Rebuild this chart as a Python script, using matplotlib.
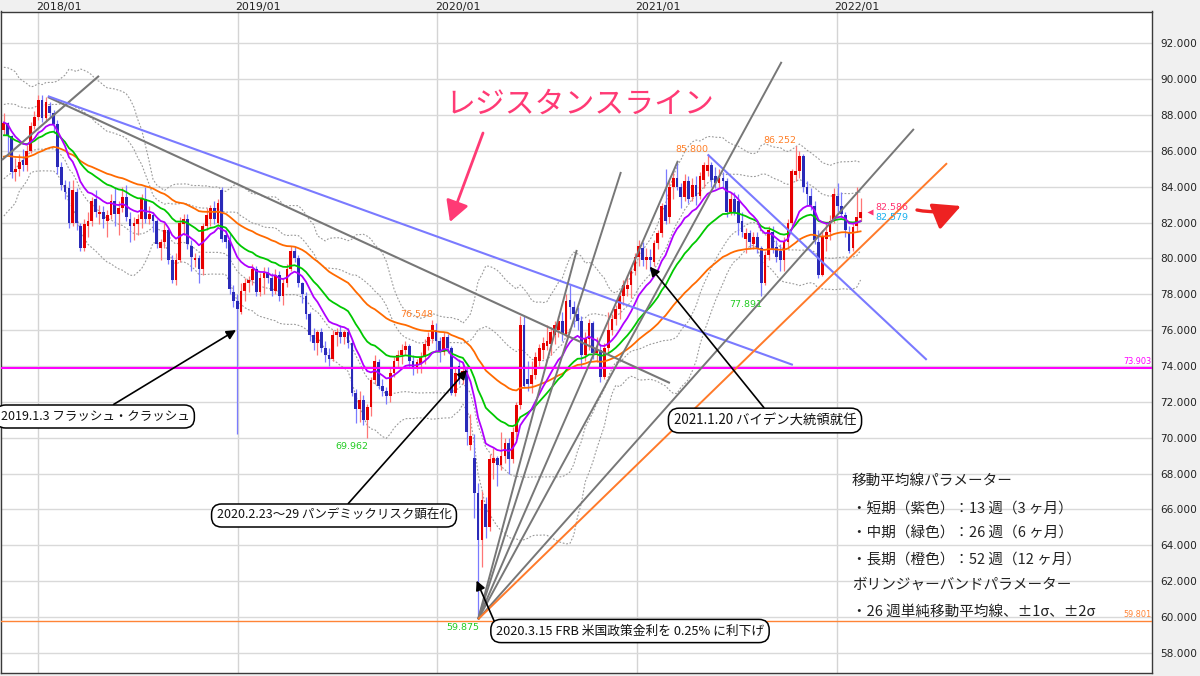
import numpy as np
import pandas as pd
import matplotlib
matplotlib.use("Agg")
import matplotlib.pyplot as plt
import matplotlib.transforms as mtransforms

W, H = 1200, 676
JP = ['Noto Sans CJK JP', 'DejaVu Sans']
plt.rcParams['font.family'] = ['DejaVu Sans']

# ---------------------------------------------------------------- data
# Weekly AUD/JPY candles, first week starting 2017-10-30
first_week = np.datetime64('2017-10-30')

opens = [
    87.15, 87.55, 86.85, 84.8, 85.0, 85.5, 85.2, 86.0, 87.4, 87.9,
    88.85, 87.85, 88.5, 88.1, 87.5, 85.1, 84.1, 83.9, 82.0, 83.7,
    81.8, 80.6, 81.8, 82.1, 83.3, 82.5, 82.6, 82.1, 82.4, 83.2,
    82.5, 82.8, 83.4, 82.2, 81.8, 81.9, 82.2, 83.3, 82.2, 82.4,
    82.1, 80.6, 80.9, 81.6, 79.9, 78.8, 79.9, 81.9, 82.2, 80.7,
    79.9, 80.0, 79.4, 81.8, 82.2, 82.8, 82.0, 83.8, 81.3, 81.0,
    78.1, 77.6, 77.0, 78.2, 78.6, 78.8, 79.4, 78.1, 78.9, 79.2,
    78.9, 78.2, 79.1, 77.9, 78.6, 79.4, 80.4, 80.0, 78.6, 77.9,
    76.9, 75.7, 75.3, 75.9, 75.0, 74.6, 74.4, 75.7, 75.9, 75.6,
    75.9, 75.3, 72.5, 71.6, 72.1, 71.0, 71.7, 73.2, 74.2, 72.9,
    72.6, 72.3, 73.6, 74.3, 74.6, 74.9, 75.1, 74.3, 73.9, 74.1,
    74.5, 75.1, 75.5, 76.0, 75.4, 74.8, 75.6, 75.0, 72.5, 74.0,
    73.3, 73.7, 69.6, 68.85, 66.9, 64.3, 66.3, 65.0, 68.6, 68.85,
    68.5, 69.0, 69.7, 68.8, 70.3, 71.8, 76.3, 73.3, 73.0, 73.5,
    74.3, 74.9, 75.1, 75.2, 75.7, 76.0, 76.5, 75.8, 77.7, 77.3,
    76.9, 76.5, 74.6, 75.5, 76.4, 74.7, 74.9, 73.4, 75.0, 76.0,
    76.6, 77.2, 77.9, 78.3, 78.5, 79.3, 80.1, 80.6, 79.9, 80.1,
    79.8, 80.85, 81.4, 83.0, 82.3, 84.0, 84.5, 84.0, 83.4, 84.3,
    83.4, 84.1, 83.5, 84.4, 84.9, 85.2, 84.6, 84.2, 84.5, 84.3,
    82.6, 83.3, 83.2, 82.1, 81.1, 81.4, 80.8, 81.2, 80.6, 78.6,
    80.2, 81.5, 80.66, 80.4, 79.9, 80.9, 82.0, 84.65, 84.9, 85.7,
    84.0, 83.5, 82.9, 80.9, 79.1, 81.1, 81.5, 82.2, 83.5, 82.9,
    82.4, 81.5, 80.57, 81.8, 82.24]

highs = [
    88.1, 87.6, 86.9, 85.6, 85.8, 86.1, 86.3, 87.6, 88.2, 89.1,
    89.1, 89.0, 88.7, 88.3, 87.7, 85.4, 84.4, 84.3, 84.4, 83.9,
    82.0, 82.2, 82.6, 83.4, 83.8, 83.0, 82.9, 82.7, 83.6, 84.0,
    83.2, 84.0, 84.1, 82.6, 82.3, 82.5, 83.6, 84.0, 82.9, 82.6,
    82.2, 81.1, 82.0, 81.7, 80.2, 80.3, 82.3, 82.5, 82.5, 81.0,
    80.3, 80.2, 82.0, 82.8, 83.0, 83.2, 83.3, 84.0, 81.6, 81.4,
    78.5, 78.0, 78.6, 78.9, 79.0, 79.7, 79.6, 79.2, 79.5, 79.5,
    79.2, 79.4, 79.3, 78.9, 79.7, 80.7, 80.7, 80.2, 78.7, 78.1,
    77.0, 76.1, 76.0, 76.1, 75.4, 75.0, 76.0, 76.1, 76.3, 76.0,
    76.1, 75.5, 72.7, 72.6, 72.4, 71.9, 73.4, 74.6, 74.4, 73.3,
    72.8, 73.9, 74.5, 74.9, 75.2, 75.4, 75.2, 74.6, 74.4, 74.8,
    75.5, 75.9, 76.548, 76.4, 75.6, 75.9, 75.8, 75.1, 73.9, 74.4,
    74.2, 74.0, 71.3, 70.2, 67.5, 67.0, 66.7, 69.1, 69.4, 69.0,
    70.3, 70.0, 70.0, 70.6, 72.0, 76.8, 76.8, 74.3, 74.3, 74.8,
    75.2, 75.6, 76.3, 76.2, 76.5, 76.8, 77.0, 78.0, 78.5, 77.6,
    77.3, 76.8, 75.9, 76.6, 76.5, 75.6, 75.2, 75.3, 77.0, 76.9,
    77.4, 78.0, 78.8, 79.1, 79.5, 80.3, 81.0, 80.9, 80.6, 80.5,
    81.0, 81.6, 83.1, 85.0, 84.3, 84.9, 85.4, 84.2, 84.7, 84.6,
    84.5, 84.6, 84.8, 85.4, 85.8, 85.4, 85.1, 85.0, 84.8, 84.5,
    83.7, 83.7, 83.6, 82.6, 81.7, 81.6, 81.5, 81.5, 80.7, 80.4,
    81.8, 81.8, 81.0, 80.8, 81.2, 82.2, 85.0, 86.252, 86.0, 85.8,
    84.3, 83.9, 83.2, 81.6, 81.6, 82.0, 82.4, 83.9, 84.2, 83.7,
    82.6, 81.8, 82.0, 84.0, 83.37]

lows = [
    86.9, 85.9, 84.5, 84.3, 84.6, 84.9, 84.9, 85.9, 87.2, 87.7,
    87.6, 87.6, 87.9, 87.0, 84.7, 83.8, 83.3, 81.7, 81.8, 81.6,
    80.4, 80.4, 81.2, 81.8, 82.3, 81.9, 81.7, 81.2, 82.2, 81.8,
    81.3, 82.6, 82.1, 80.9, 81.0, 81.3, 81.7, 82.0, 81.9, 81.5,
    80.6, 79.9, 80.6, 79.7, 78.6, 78.5, 79.8, 81.3, 80.5, 79.3,
    79.5, 78.6, 79.1, 81.6, 81.8, 81.9, 81.8, 80.9, 80.6, 78.0,
    77.3, 70.2, 76.9, 77.6, 78.1, 78.5, 77.9, 77.9, 78.0, 78.6,
    77.9, 78.0, 77.6, 77.4, 78.4, 79.3, 79.8, 78.4, 77.5, 76.6,
    75.4, 74.9, 74.6, 74.8, 74.2, 74.0, 74.3, 75.1, 75.3, 75.2,
    75.0, 72.3, 70.8, 70.9, 70.7, 69.962, 71.2, 73.0, 72.7, 72.3,
    71.9, 72.0, 73.4, 73.9, 74.1, 74.6, 73.9, 73.5, 73.6, 73.6,
    74.1, 74.9, 75.3, 74.9, 74.2, 74.6, 74.7, 72.4, 72.3, 73.0,
    73.0, 69.6, 69.3, 65.5, 59.875, 62.8, 64.4, 64.8, 67.7, 67.3,
    68.2, 68.6, 68.0, 68.6, 69.9, 71.6, 72.8, 72.6, 72.5, 73.3,
    74.0, 74.4, 74.9, 74.6, 75.2, 75.6, 75.4, 75.6, 76.6, 76.2,
    76.0, 73.9, 74.3, 74.9, 74.4, 74.2, 73.1, 73.3, 74.8, 75.7,
    76.3, 76.6, 77.4, 77.9, 77.8, 79.1, 79.6, 79.6, 79.4, 79.3,
    79.6, 80.5, 81.2, 81.9, 82.0, 83.3, 83.8, 82.8, 83.2, 83.1,
    83.2, 83.0, 83.3, 83.9, 84.6, 84.0, 83.9, 83.9, 84.0, 82.3,
    82.4, 82.4, 81.3, 81.2, 80.3, 80.6, 80.5, 80.3, 77.891, 78.5,
    79.9, 80.3, 79.8, 79.3, 79.3, 80.6, 81.8, 84.3, 84.5, 83.7,
    83.0, 82.7, 80.8, 78.9, 79.0, 80.4, 81.0, 82.0, 82.6, 82.3,
    81.2, 80.3, 80.4, 81.5, 82.1]

closes = [
    87.55, 86.85, 84.8, 85.0, 85.4, 85.2, 86.0, 87.4, 87.9, 88.85,
    87.85, 88.7, 88.1, 87.5, 85.1, 84.1, 83.7, 82.0, 83.8, 82.0,
    80.6, 81.9, 82.1, 83.2, 82.6, 82.6, 82.2, 82.4, 83.2, 82.5,
    82.8, 83.4, 82.3, 81.8, 82.0, 82.2, 83.3, 82.2, 82.5, 82.1,
    80.8, 80.9, 81.6, 79.9, 78.8, 79.9, 82.0, 82.2, 80.8, 80.1,
    80.0, 79.4, 81.8, 82.4, 82.8, 82.2, 83.1, 81.1, 80.9, 78.3,
    77.6, 77.2, 78.2, 78.6, 78.8, 79.4, 78.1, 78.9, 79.2, 78.9,
    78.2, 79.1, 77.9, 78.6, 79.4, 80.4, 80.0, 78.6, 78.0, 76.9,
    75.7, 75.3, 75.9, 75.0, 74.6, 74.4, 75.7, 75.9, 75.6, 75.9,
    75.3, 72.5, 71.6, 72.1, 71.0, 71.7, 73.2, 74.3, 72.9, 72.6,
    72.3, 73.6, 74.3, 74.6, 74.9, 75.1, 74.3, 73.9, 74.2, 74.5,
    75.2, 75.6, 76.3, 75.4, 74.8, 75.6, 75.0, 72.5, 73.6, 73.3,
    73.7, 70.3, 70.1, 66.9, 64.3, 66.5, 65.0, 68.8, 68.85, 68.5,
    69.0, 69.7, 68.8, 70.3, 71.8, 76.3, 72.9, 73.0, 73.5, 74.5,
    75.0, 75.3, 75.4, 75.9, 76.3, 76.5, 75.8, 77.6, 77.3, 76.9,
    76.5, 74.6, 75.5, 76.4, 74.7, 74.9, 73.4, 75.0, 76.0, 76.6,
    77.2, 77.9, 78.5, 78.5, 79.3, 80.1, 80.7, 79.9, 80.1, 79.9,
    80.85, 81.4, 82.9, 82.1, 84.0, 84.5, 84.0, 83.4, 84.3, 83.3,
    84.1, 83.5, 84.6, 85.2, 85.2, 84.4, 84.2, 84.5, 84.3, 82.6,
    83.3, 82.6, 82.0, 81.5, 81.4, 80.9, 81.2, 80.6, 78.6, 80.2,
    81.6, 80.5, 80.1, 79.9, 80.9, 82.0, 84.9, 84.85, 85.7, 84.0,
    83.6, 83.0, 81.0, 79.1, 81.2, 81.5, 82.1, 83.6, 82.9, 82.5,
    81.6, 80.4, 81.77, 82.3, 82.586]

# weekly closes preceding the first candle (Jan 2016 - Oct 2017);
# they seed the exponential averages and the bands
closes_prior = [
    84.0, 82.0, 82.7, 84.8, 82.9, 79.5, 80.7, 81.1, 83.8, 84.6,
    85.3, 85.6, 86.3, 83.6, 82.4, 84.9, 81.1, 79.4, 79.5, 78.9,
    80.0, 78.7, 77.8, 76.5, 76.8, 76.2, 79.4, 80.3, 78.7, 79.0,
    77.6, 76.9, 78.5, 77.4, 78.0, 77.5, 78.1, 77.7, 78.0, 79.2,
    79.4, 79.7,
    81.0, 82.2, 84.0, 84.5, 85.4, 86.3, 84.7, 84.5, 84.8, 85.8,
    86.4, 86.8, 86.4, 87.3, 87.0, 86.2, 86.5, 87.6, 87.4, 85.0,
    85.1, 83.9, 82.4, 83.6, 83.4, 84.3, 83.8, 83.3, 83.2, 81.9,
    83.5, 84.0, 83.8, 86.2, 86.7, 88.6, 87.3, 88.0, 87.5, 86.6,
    86.7, 87.2, 87.6, 88.3, 89.6, 88.7, 88.4, 88.0, 87.6, 88.4,
    86.8]

year_labels = ['2018/01', '2019/01', '2020/01', '2021/01', '2022/01']
year_dates = ['2018-01-01', '2019-01-01', '2020-01-01', '2021-01-01', '2022-01-01']
price_ticks = np.arange(58, 93, 2)

ma_short, ma_mid, ma_long = 13, 26, 52
bb_period = 26

resistance_level = 73.903
support_level = 59.801
last_price = 82.586
second_price = 82.579

# marked highs / lows: (week index, value)
marked_highs = [(112, 76.548), (184, 85.800), (207, 86.252)]
marked_lows = [(95, 69.962), (198, 77.891), (124, 59.875)]

# ---------------------------------------------------------------- derived series
o = np.array(opens); h = np.array(highs); l = np.array(lows); c = np.array(closes)
n = len(c)
xk = np.arange(n)
full = pd.Series(np.concatenate([closes_prior, c]))
nb = len(closes_prior)
ma13 = full.ewm(span=ma_short, adjust=True).mean().values[nb:]
ma26 = full.ewm(span=ma_mid, adjust=True).mean().values[nb:]
ma52 = full.ewm(span=ma_long, adjust=True).mean().values[nb:]
bb_mid = full.rolling(bb_period).mean().values[nb:]
bb_sd = full.rolling(bb_period).std(ddof=0).values[nb:]

def week_pos(date):
    return (np.datetime64(date) - first_week) / np.timedelta64(7, 'D')

# ---------------------------------------------------------------- figure
fig = plt.figure(figsize=(W / 100, H / 100), dpi=100, facecolor='#f0f0f0')
ax = fig.add_axes([1 / W, (H - 673.3) / H, 1151 / W, (673.3 - 11.5) / H])
ax.set_facecolor('white')
ax.set_xlim(-0.75, 300.2)
ax.set_ylim(56.86, 93.77)

for sp in ax.spines.values():
    sp.set_color('#3a3a3a')
    sp.set_linewidth(1.0)

ax.set_xticks([])
ax.yaxis.tick_right()
ax.set_yticks(price_ticks)
ax.set_yticklabels([f'{v:.3f}' for v in price_ticks])
ax.tick_params(axis='y', length=0, pad=6, labelsize=7.6, labelcolor='#222222')
ax.grid(axis='y', color='#d9d9d9', lw=1.0, zorder=0)
ax.set_axisbelow(True)

top_tr = mtransforms.blended_transform_factory(ax.transData, ax.transAxes)
for lab, d in zip(year_labels, year_dates):
    xp = week_pos(d)
    ax.axvline(xp, color='#d4d4d4', lw=1.0, zorder=0)
    ax.text(xp - 0.6, 1.0073, lab, transform=top_tr, ha='left', va='center',
            fontsize=7.9, color='#222222', clip_on=False)

# Bollinger bands (26-week SMA +-1 sigma, +-2 sigma)
for m in (1, 2):
    for s in (1, -1):
        ax.plot(xk, bb_mid + s * m * bb_sd, color='#9a9a9a', lw=0.8,
                ls=(0, (1.6, 1.6)), zorder=1)

# candles
up = c >= o
body_col = np.where(up, '#e60000', '#2a2ab8')
wick_col = np.where(up, '#ff7676', '#7b7bff')
ax.vlines(xk, l, h, colors=wick_col, lw=0.9, zorder=2)
body_lo = np.minimum(o, c)
body_h = np.maximum(np.abs(c - o), 0.06)
ax.bar(xk, body_h, bottom=body_lo, width=0.72, color=body_col, lw=0, zorder=3)

# moving averages
ax.plot(xk, ma52, color='#ff6a00', lw=1.3, zorder=4)
ax.plot(xk, ma26, color='#00c800', lw=1.3, zorder=4)
ax.plot(xk, ma13, color='#b000ff', lw=1.3, zorder=4)

# horizontal levels
ax.axhline(resistance_level, color='#ff00ff', lw=1.5, zorder=5)
ax.axhline(support_level, color='#ff8436', lw=1.0, zorder=5)
right_tr = mtransforms.blended_transform_factory(ax.transAxes, ax.transData)
ax.text(0.9993, resistance_level + 0.1, f'{resistance_level:.3f}', transform=right_tr,
        ha='right', va='bottom', fontsize=5.9, color='#ff00ff', zorder=6)
ax.text(0.9993, support_level + 0.1, f'{support_level:.3f}', transform=right_tr,
        ha='right', va='bottom', fontsize=5.9, color='#ff8436', zorder=6)

# trend lines
grey, blue, orange = '#777777', '#7a7aff', '#ff7a2a'
trend_lines = [
    ((-0.49, 85.49), (24.87, 90.18), grey),
    ((11.5, 89.0), (174.15, 73.05), grey),
    ((11.5, 89.05), (206.3, 74.06), blue),
    ((184.0, 85.80), (241.3, 74.34), blue),
]
pivot = (124.0, 59.875)
fan_ends = [((149.8, 80.47), grey), ((161.34, 84.82), grey), ((176.24, 85.44), grey),
            ((203.35, 90.96), grey), ((237.94, 87.22), grey), ((246.6, 85.31), orange)]
for (a, b, col) in trend_lines:
    ax.plot([a[0], b[0]], [a[1], b[1]], color=col, lw=1.5, zorder=6,
            solid_capstyle='butt')
for (b, col) in fan_ends:
    ax.plot([pivot[0], b[0]], [pivot[1], b[1]], color=col, lw=1.4, zorder=6,
            solid_capstyle='butt')

# marked highs and lows
for k, v in marked_highs:
    ax.text(k + 0.2, v + 0.05, f'{v:.3f}', ha='right', va='bottom', fontsize=6.8,
            color='#ff7f27', zorder=7)
for k, v in marked_lows:
    ax.text(k + 0.2, v - 0.2, f'{v:.3f}', ha='right', va='top', fontsize=6.8,
            color='#22cc22', zorder=7)

# current price marker
ax.plot([226.4], [last_price], marker='<', ms=5, color='#ff3370', mec='none', zorder=7)
ax.text(227.8, last_price + 0.28, f'{last_price:.3f}', ha='left', va='center',
        fontsize=6.8, color='#ff3370', zorder=7)
ax.text(227.8, last_price - 0.28, f'{second_price:.3f}', ha='left', va='center',
        fontsize=6.8, color='#1ab0ee', zorder=7)

# callout boxes with arrows
box = dict(boxstyle='round,pad=0.4,rounding_size=0.8', fc='white', ec='black', lw=1.1)

def callout(text, tip, center_px, rel, size=9):
    ax.annotate(text, xy=tip, xycoords='data',
                xytext=(center_px[0], H - center_px[1]), textcoords='figure pixels',
                ha='center', va='center', fontsize=size, family=JP, color='#111111',
                bbox=box, zorder=10, annotation_clip=False,
                arrowprops=dict(arrowstyle='-|>', color='black', lw=1.2,
                                mutation_scale=14, shrinkA=0, shrinkB=0, relpos=rel))

callout('2019.1.3 フラッシュ・クラッシュ', (60.7, 76.0), (95, 416.5), (0.55, 1.0))
callout('2020.2.23〜29 パンデミックリスク顕在化', (121.1, 73.78), (334, 515.5), (0.54, 1.0))
callout('2021.1.20 バイデン大統領就任', (168.9, 79.54), (765, 420.5), (0.52, 1.0), 9.6)
callout('2020.3.15 FRB 米国政策金利を 0.25% に利下げ', (123.6, 62.03), (630, 631), (0.0, 0.95), 9.2)

# resistance-line caption with its arrow
fig.text(580 / W, 1 - 104 / H, 'レジスタンスライン', fontsize=21.5, color='#ff3a75',
         ha='center', va='center', family=JP)
ax.annotate('', xy=(450, H - 222), xycoords='figure pixels',
            xytext=(483, H - 133), textcoords='figure pixels',
            arrowprops=dict(arrowstyle='-|>,head_length=0.9,head_width=0.5',
                            color='#ff3a75', lw=2.0, mutation_scale=14,
                            shrinkA=0, shrinkB=0))

# red arrow pointing right
ax.annotate('', xy=(961, H - 206), xycoords='figure pixels',
            xytext=(917, H - 210), textcoords='figure pixels',
            arrowprops=dict(arrowstyle='-|>,head_length=1.2,head_width=0.6',
                            color='#ee2222', lw=2.4, mutation_scale=14,
                            shrinkA=0, shrinkB=0, connectionstyle='arc3,rad=0.15'))

# parameter notes
notes = ['移動平均線パラメーター',
         '・短期（紫色）：13 週（3 ヶ月）',
         '・中期（緑色）：26 週（6 ヶ月）',
         '・長期（橙色）：52 週（12 ヶ月）',
         'ボリンジャーバンドパラメーター',
         '・26 週単純移動平均線、±1σ、±2σ']
note_y = [480.7, 508.3, 533.3, 560, 585, 612]
for t, y in zip(notes, note_y):
    fig.text(852 / W, 1 - y / H, t, fontsize=10.5, family=JP, color='#222222',
             ha='left', va='center')

fig.savefig('out.png', dpi=100, facecolor=fig.get_facecolor())
